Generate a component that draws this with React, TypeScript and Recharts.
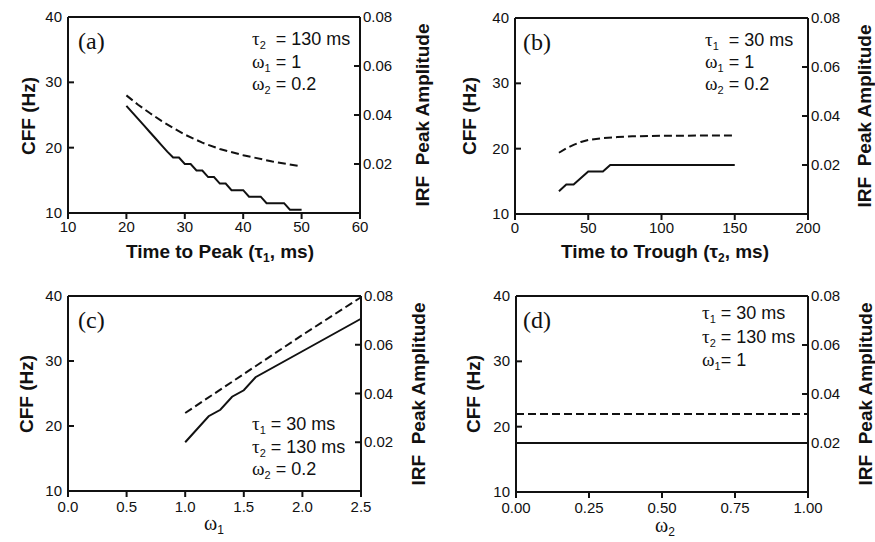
import React from "react";
import { LineChart, Line, XAxis, YAxis, ReferenceLine } from "recharts";

// (a) CFF vs time to peak
const tau1Solid = [20, 21, 22, 23, 24, 25, 26, 27, 28, 29, 30, 31, 32, 33, 34, 35, 36, 37, 38, 39, 40, 41, 42, 43, 44, 45, 46, 47, 48, 49, 50];
const cffA = [26.4, 25.4, 24.4, 23.4, 22.4, 21.4, 20.4, 19.4, 18.5, 18.5, 17.5, 17.5, 16.5, 16.5, 15.5, 15.5, 14.5, 14.5, 13.5, 13.5, 13.5, 12.5, 12.5, 12.5, 11.5, 11.5, 11.5, 11.5, 10.5, 10.5, 10.5];
const tau1Dashed = [20, 22, 24, 26, 28, 30, 33, 36, 40, 45, 50];
const irfA = [0.048, 0.0442, 0.0408, 0.0376, 0.0347, 0.032, 0.0287, 0.0261, 0.0236, 0.021, 0.019];

// (b) CFF vs time to trough
const tau2Solid = [30, 35, 40, 50, 60, 65, 150];
const cffB = [13.5, 14.5, 14.5, 16.5, 16.5, 17.5, 17.5];
const tau2Dashed = [30, 35, 40, 45, 50, 60, 70, 80, 100, 125, 150];
const irfB = [0.025, 0.0268, 0.0282, 0.0294, 0.0302, 0.031, 0.0314, 0.0317, 0.0319, 0.032, 0.032];

// (c) CFF vs omega1
const omega1Solid = [1.0, 1.2, 1.3, 1.4, 1.5, 1.6, 2.0, 2.5];
const cffC = [17.5, 21.5, 22.5, 24.5, 25.5, 27.5, 31.5, 36.5];
const omega1Dashed = [1.0, 1.5, 2.0, 2.5];
const irfC = [0.032, 0.048, 0.064, 0.0795];

// (d) CFF vs omega2
const omega2 = [0, 0.25, 0.5, 0.75, 1.0];
const cffD = [17.5, 17.5, 17.5, 17.5, 17.5];
const irfD = [0.0318, 0.0318, 0.0318, 0.0318, 0.0318];

const cffTicks = [10, 20, 30, 40];
const irfTicks = [0.02, 0.04, 0.06, 0.08];
const ticksA = [10, 20, 30, 40, 50, 60];
const ticksB = [0, 50, 100, 150, 200];
const ticksC = [0, 0.5, 1.0, 1.5, 2.0, 2.5];
const ticksD = [0, 0.25, 0.5, 0.75, 1.0];

const FONT = '"Liberation Sans", Arial, sans-serif';
const SERIF = '"Liberation Serif", "Times New Roman", serif';
const INK = "#111";

type Row = { x: number; cff?: number; irf?: number };

function merge(xs1: number[], ys1: number[], xs2: number[], ys2: number[]): Row[] {
  const m = new Map<number, Row>();
  xs1.forEach((x, i) => {
    const r = m.get(x) || { x };
    r.cff = ys1[i];
    m.set(x, r);
  });
  xs2.forEach((x, i) => {
    const r = m.get(x) || { x };
    r.irf = ys2[i];
    m.set(x, r);
  });
  return [...m.values()].sort((a, b) => a.x - b.x);
}

const LeftTick = (props: any) => {
  const { x, y, payload } = props;
  return (
    <g>
      <line x1={x + 6} x2={x + 12} y1={y} y2={y} stroke={INK} strokeWidth={2} />
      <text x={x} y={y + 5} textAnchor="end" fontSize={15} fontFamily={FONT} fill={INK}>
        {payload.value}
      </text>
    </g>
  );
};

const RightTick = (props: any) => {
  const { x, y, payload } = props;
  return (
    <g>
      <line x1={x - 3} x2={x - 9} y1={y} y2={y} stroke={INK} strokeWidth={2} />
      <text x={x} y={y + 5} textAnchor="start" fontSize={15} fontFamily={FONT} fill={INK}>
        {Number(payload.value).toFixed(2)}
      </text>
    </g>
  );
};

type PanelProps = {
  px: number;
  py: number;
  pw: number;
  ph: number;
  data: Row[];
  xDomain: [number, number];
  xTicks: number[];
  fmt: (v: number) => string;
  xMargin?: number;
};

function Panel({ px, py, pw, ph, data, xDomain, xTicks, fmt, xMargin = 2 }: PanelProps) {
  return (
    <div style={{ position: "absolute", left: px - 60, top: py - 10 }}>
      <LineChart
        width={pw + 120}
        height={ph + 40}
        data={data}
        margin={{ top: 10, right: 0, bottom: 0, left: 0 }}
      >
        <XAxis
          dataKey="x"
          type="number"
          domain={xDomain}
          ticks={xTicks}
          interval={0}
          height={30}
          tickSize={6}
          tickMargin={xMargin}
          tickFormatter={fmt}
          axisLine={{ stroke: INK, strokeWidth: 2 }}
          tickLine={{ stroke: INK, strokeWidth: 2 }}
          tick={{ fontSize: 15, fill: INK, fontFamily: FONT }}
        />
        <YAxis
          yAxisId="left"
          domain={[10, 40]}
          ticks={cffTicks}
          interval={0}
          width={60}
          tickSize={0}
          tickMargin={6}
          axisLine={{ stroke: INK, strokeWidth: 2 }}
          tickLine={false}
          tick={<LeftTick />}
        />
        <YAxis
          yAxisId="right"
          orientation="right"
          domain={[0, 0.08]}
          ticks={irfTicks}
          interval={0}
          width={60}
          tickSize={0}
          tickMargin={3}
          axisLine={{ stroke: INK, strokeWidth: 2 }}
          tickLine={false}
          tick={<RightTick />}
        />
        <ReferenceLine yAxisId="left" y={40} stroke={INK} strokeWidth={2} />
        <Line
          yAxisId="left"
          dataKey="cff"
          stroke={INK}
          strokeWidth={2}
          dot={false}
          connectNulls
          isAnimationActive={false}
        />
        <Line
          yAxisId="right"
          dataKey="irf"
          stroke={INK}
          strokeWidth={2}
          strokeDasharray="8 4"
          dot={false}
          connectNulls
          isAnimationActive={false}
        />
      </LineChart>
    </div>
  );
}

type Note = [string, string, string];

// each annotation line is one svg text, so glyph boxes stay tight
function Notes({ left, cys, lines }: { left: number; cys: number[]; lines: Note[] }) {
  return (
    <>
      {lines.map((l, i) => (
        <svg
          key={i}
          width={130}
          height={20}
          style={{ position: "absolute", left, top: cys[i] - 10, overflow: "visible" }}
        >
          <text y={16} fontFamily={FONT} fontSize={18} fill={INK} style={{ whiteSpace: "pre" }}>
            <tspan fontFamily={SERIF} fontSize={19}>
              {l[0]}
            </tspan>
            <tspan fontSize={11} dy={4}>
              {l[1]}
            </tspan>
            <tspan dy={-4}>{l[2]}</tspan>
          </text>
        </svg>
      ))}
    </>
  );
}

// greek x-axis titles of the lower panels
function GreekTitle({ cx, cy, ch, sub }: { cx: number; cy: number; ch: string; sub: string }) {
  return (
    <svg
      width={40}
      height={20}
      style={{ position: "absolute", left: cx - 20, top: cy - 10, overflow: "visible" }}
    >
      <text x={20} y={14} textAnchor="middle" fontFamily={SERIF} fontSize={20} fill={INK}>
        {ch}
        <tspan fontFamily={FONT} fontSize={12} dy={4}>
          {sub}
        </tspan>
      </text>
    </svg>
  );
}

const Tag = ({ left, cy, text }: { left: number; cy: number; text: string }) => (
  <div
    style={{
      position: "absolute",
      left,
      top: cy - 14,
      lineHeight: "28px",
      fontFamily: SERIF,
      fontSize: 24,
      color: INK,
    }}
  >
    {text}
  </div>
);

const Title = ({
  cx,
  cy,
  rotate,
  children,
}: {
  cx: number;
  cy: number;
  rotate?: boolean;
  children: React.ReactNode;
}) => (
  <div
    style={{
      position: "absolute",
      left: cx,
      top: cy,
      transform: `translate(-50%, -50%)${rotate ? " rotate(-90deg)" : ""}`,
      fontFamily: FONT,
      fontWeight: 700,
      fontSize: 19,
      color: INK,
      whiteSpace: "pre",
      lineHeight: "22px",
    }}
  >
    {children}
  </div>
);

const Sub = ({ children }: { children: React.ReactNode }) => (
  <span style={{ fontSize: 12, position: "relative", top: 4 }}>{children}</span>
);

const f0 = (v: number) => String(v);
const f1 = (v: number) => v.toFixed(1);
const f2 = (v: number) => v.toFixed(2);

export default function App() {
  const dataA = merge(tau1Solid, cffA, tau1Dashed, irfA);
  const dataB = merge(tau2Solid, cffB, tau2Dashed, irfB);
  const dataC = merge(omega1Solid, cffC, omega1Dashed, irfC);
  const dataD = merge(omega2, cffD, omega2, irfD);

  return (
    <div
      style={{
        position: "absolute",
        left: 0,
        top: 0,
        width: 875,
        height: 542,
        background: "#fff",
        overflow: "hidden",
      }}
    >
      <Panel px={68} py={17} pw={292} ph={196} data={dataA} xDomain={[10, 60]} xTicks={ticksA} fmt={f0} />
      <Panel px={515} py={18} pw={293} ph={196} data={dataB} xDomain={[0, 200]} xTicks={ticksB} fmt={f0} />
      <Panel px={68} py={296} pw={293} ph={195} data={dataC} xDomain={[0, 2.5]} xTicks={ticksC} fmt={f1} xMargin={4} />
      <Panel px={516} py={296} pw={292} ph={196} data={dataD} xDomain={[0, 1]} xTicks={ticksD} fmt={f2} xMargin={4} />

      <Tag left={78} cy={41} text="(a)" />
      <Tag left={523} cy={42} text="(b)" />
      <Tag left={78} cy={320} text="(c)" />
      <Tag left={523} cy={320} text="(d)" />

      <Notes
        left={252}
        cys={[39, 62, 84]}
        lines={[
          ["τ", "2", "  = 130 ms"],
          ["ω", "1", " = 1"],
          ["ω", "2", " = 0.2"],
        ]}
      />
      <Notes
        left={705}
        cys={[40, 62, 84]}
        lines={[
          ["τ", "1", "  = 30 ms"],
          ["ω", "1", " = 1"],
          ["ω", "2", " = 0.2"],
        ]}
      />
      <Notes
        left={252}
        cys={[424, 447, 469]}
        lines={[
          ["τ", "1", " = 30 ms"],
          ["τ", "2", " = 130 ms"],
          ["ω", "2", " = 0.2"],
        ]}
      />
      <Notes
        left={702}
        cys={[313, 337, 360]}
        lines={[
          ["τ", "1", " = 30 ms"],
          ["τ", "2", " = 130 ms"],
          ["ω", "1", "= 1"],
        ]}
      />

      <Title cx={220} cy={253}>
        Time to Peak (τ<Sub>1</Sub>, ms)
      </Title>
      <Title cx={665} cy={253}>
        Time to Trough (τ<Sub>2</Sub>, ms)
      </Title>
      <GreekTitle cx={214} cy={526} ch="ω" sub="1" />
      <GreekTitle cx={665} cy={528} ch="ω" sub="2" />

      <Title cx={29} cy={116} rotate>
        CFF (Hz)
      </Title>
      <Title cx={470} cy={116} rotate>
        CFF (Hz)
      </Title>
      <Title cx={27} cy={394} rotate>
        CFF (Hz)
      </Title>
      <Title cx={474} cy={394} rotate>
        CFF (Hz)
      </Title>

      <Title cx={423} cy={115} rotate>
        {"IRF  Peak Amplitude"}
      </Title>
      <Title cx={865} cy={116} rotate>
        {"IRF  Peak Amplitude"}
      </Title>
      <Title cx={419} cy={394} rotate>
        {"IRF  Peak Amplitude"}
      </Title>
      <Title cx={866} cy={394} rotate>
        {"IRF  Peak Amplitude"}
      </Title>
    </div>
  );
}
